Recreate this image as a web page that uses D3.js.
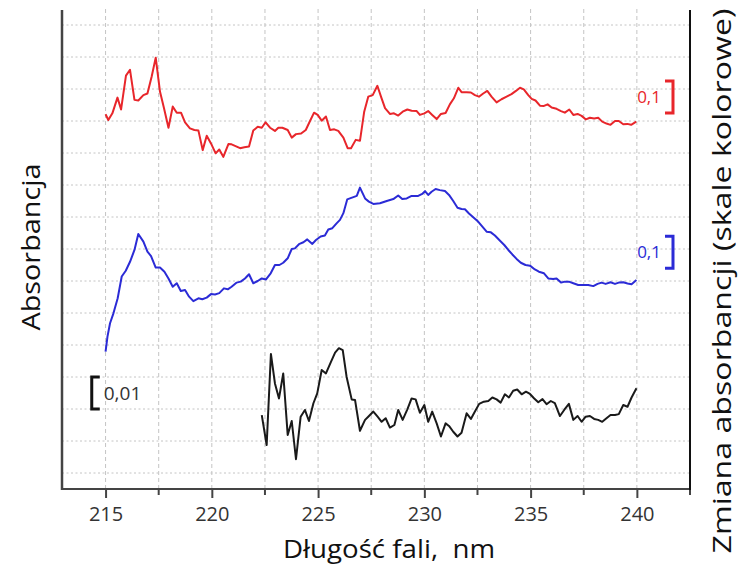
<!DOCTYPE html>
<html><head><meta charset="utf-8">
<script src="https://cdn.jsdelivr.net/npm/d3@7"></script>
<style>
html,body{margin:0;padding:0;background:#fff;}
svg{display:block;font-family:"Open Sans",sans-serif;}
</style></head>
<body><svg id="c" width="740" height="567"></svg>
<script>
// Wavelength (nm) and signal in scale-bar units (red/blue: 0.1 A per unit, black: 0.01 A per unit, stacked)
const redWl = [215.0,215.13,215.32,215.56,215.73,215.96,216.15,216.36,216.54,216.78,216.97,217.17,217.36,217.56,217.75,217.96,218.16,218.35,218.55,218.74,218.97,219.18,219.37,219.57,219.76,219.96,220.18,220.35,220.54,220.78,220.93,221.17,221.33,221.53,221.75,221.95,222.16,222.35,222.53,222.74,222.97,223.13,223.32,223.57,223.76,223.96,224.20,224.42,224.62,224.81,224.98,225.17,225.37,225.56,225.76,225.95,226.19,226.39,226.55,226.77,226.97,227.17,227.36,227.57,227.79,227.96,228.15,228.38,228.57,228.77,228.98,229.20,229.40,229.64,229.79,230.00,230.18,230.37,230.58,230.78,231.00,231.20,231.39,231.60,231.75,231.99,232.19,232.38,232.57,232.77,232.96,233.16,233.40,233.63,233.87,234.10,234.31,234.50,234.68,234.89,235.05,235.23,235.44,235.63,235.80,235.99,236.22,236.43,236.61,236.82,237.01,237.21,237.40,237.60,237.79,237.99,238.18,238.37,238.57,238.76,238.97,239.15,239.36,239.55,239.73,239.97];
const redVal = [11.21,11.03,11.24,11.73,11.36,12.42,12.60,11.66,11.64,11.81,11.86,12.39,12.98,11.92,11.40,10.79,11.45,11.26,11.26,10.96,10.77,10.72,10.70,10.09,10.54,10.30,9.99,10.11,9.88,10.28,10.27,10.20,10.15,10.18,10.20,10.70,10.82,10.79,10.96,10.79,10.69,10.79,10.79,10.72,10.48,10.59,10.61,10.72,11.00,11.26,11.19,11.01,11.14,10.72,10.74,10.69,10.48,10.15,10.15,10.41,10.38,11.29,11.76,11.81,12.10,11.76,11.40,11.22,11.24,11.17,11.29,11.36,11.32,11.31,11.19,11.24,11.31,11.19,11.06,11.22,11.25,11.52,11.71,12.04,11.90,11.90,11.89,11.81,11.76,11.86,11.94,11.76,11.58,11.68,11.76,11.84,11.94,12.04,11.99,11.81,11.69,11.64,11.48,11.47,11.52,11.42,11.38,11.31,11.26,11.36,11.19,11.22,11.16,11.05,11.10,11.08,11.10,10.98,10.92,10.88,11.00,11.00,10.90,10.91,10.88,10.98];

const blueWl = [215.0,215.09,215.21,215.37,215.57,215.76,215.95,216.15,216.36,216.54,216.78,216.97,217.14,217.36,217.56,217.77,217.96,218.16,218.35,218.54,218.74,218.93,219.13,219.37,219.55,219.76,219.96,220.15,220.35,220.57,220.75,220.93,221.17,221.36,221.56,221.75,221.95,222.16,222.35,222.55,222.77,222.97,223.18,223.36,223.57,223.76,223.91,224.10,224.31,224.49,224.73,224.90,225.12,225.32,225.48,225.67,225.87,226.03,226.19,226.37,226.66,226.82,226.97,227.21,227.39,227.60,227.91,228.23,228.54,228.77,228.96,229.17,229.40,229.71,229.90,230.03,230.18,230.34,230.53,230.73,230.97,231.16,231.36,231.56,231.75,231.91,232.10,232.30,232.54,232.73,232.93,233.13,233.32,233.56,233.76,233.95,234.14,234.34,234.54,234.76,234.97,235.20,235.39,235.63,235.83,236.06,236.22,236.43,236.61,236.80,237.01,237.24,237.48,237.71,237.95,238.15,238.34,238.53,238.76,238.97,239.15,239.36,239.56,239.75,239.98];
const blueVal = [3.79,4.26,4.68,4.99,5.46,6.14,6.32,6.60,6.97,7.47,7.23,6.92,6.78,6.42,6.42,6.29,6.08,5.82,5.93,5.69,5.72,5.51,5.37,5.46,5.43,5.48,5.59,5.58,5.62,5.77,5.74,5.82,5.95,5.98,6.08,6.21,5.93,6.00,6.08,6.05,6.24,6.50,6.50,6.57,6.71,7.00,7.02,7.15,7.21,7.30,7.16,7.28,7.39,7.42,7.61,7.65,7.80,7.91,8.12,8.55,8.62,8.66,8.92,8.58,8.48,8.41,8.43,8.50,8.56,8.67,8.56,8.58,8.66,8.66,8.72,8.81,8.69,8.79,8.875,8.84,8.81,8.69,8.50,8.29,8.25,8.24,8.11,7.99,7.85,7.70,7.54,7.52,7.42,7.26,7.125,6.97,6.83,6.69,6.57,6.50,6.48,6.36,6.29,6.24,6.08,6.06,6.08,5.95,5.98,5.98,5.93,5.875,5.875,5.875,5.84,5.91,5.95,5.91,5.96,5.91,5.95,5.96,5.92,5.90,6.03];

const blackWl = [222.35,222.58,222.78,222.97,223.16,223.36,223.57,223.76,223.96,224.18,224.38,224.57,224.78,224.96,225.17,225.37,225.59,225.80,225.98,226.16,226.34,226.58,226.74,226.97,227.21,227.36,227.60,227.80,227.99,228.18,228.38,228.59,228.77,228.98,229.20,229.40,229.59,229.79,230.00,230.18,230.37,230.58,230.78,231.00,231.16,231.36,231.56,231.75,231.99,232.19,232.38,232.58,232.80,233.01,233.20,233.40,233.59,233.79,233.98,234.18,234.37,234.58,234.78,234.97,235.17,235.36,235.56,235.75,235.95,236.14,236.38,236.58,236.80,237.01,237.21,237.40,237.59,237.79,237.99,238.18,238.37,238.57,238.76,238.97,239.15,239.36,239.56,239.75,239.98];
const blackVal = [1.81,0.875,3.72,2.80,2.33,3.11,1.19,1.625,0.43,1.76,1.97,1.625,2.18,2.49,3.22,3.11,3.45,3.76,3.90,3.84,3.01,2.30,2.28,1.32,1.66,1.76,1.92,1.76,1.60,1.71,1.42,1.50,1.97,1.66,1.99,2.33,2.30,1.885,2.125,1.60,1.92,1.55,1.14,1.55,1.47,1.29,1.14,1.26,1.865,1.69,1.92,2.16,2.23,2.25,2.36,2.30,2.20,2.46,2.36,2.57,2.61,2.46,2.54,2.47,2.33,2.21,2.31,2.15,2.25,2.18,1.78,1.97,2.16,1.66,1.78,1.60,1.76,1.78,1.69,1.66,1.60,1.71,1.81,1.81,1.84,2.125,2.07,2.36,2.65];

const xTicks = [215, 220, 225, 230, 235, 240];
const xMinorTicks = [217.5, 222.5, 227.5, 232.5, 237.5, 242.5];
const hGrid = [0,1,2,3,4,5,6,7,8,9,10,11,12,13,14];

const scaleBars = [
  {label: "0,1", color: "#e8262b", wl: 241.7, lo: 11.25, hi: 12.25, side: "right"},
  {label: "0,1", color: "#2b2bd6", wl: 241.7, lo: 6.4, hi: 7.4, side: "right"},
  {label: "0,01", color: "#111111", wl: 214.35, lo: 2.0, hi: 3.0, side: "left"}
];

const series = [
  {wl: redWl, val: redVal, color: "#e8262b"},
  {wl: blueWl, val: blueVal, color: "#2b2bd6"},
  {wl: blackWl, val: blackVal, color: "#1a1a1a"}
];

const svg = d3.select("#c");
const x = d3.scaleLinear().domain([212.95, 242.5]).range([62, 690]);
const y = d3.scaleLinear().domain([-0.5, 14.5]).range([489, 9]);

// grid
const grid = svg.append("g");
grid.selectAll("line.h").data(hGrid).join("line")
  .attr("x1", x.range()[0]).attr("x2", x.range()[1])
  .attr("y1", d => y(d)).attr("y2", d => y(d))
  .attr("stroke", "#c4c4c4").attr("stroke-width", 1).attr("stroke-dasharray", "2,2.5");
grid.selectAll("line.v").data(xTicks.concat(xMinorTicks.slice(0, -1))).join("line")
  .attr("x1", d => x(d)).attr("x2", d => x(d))
  .attr("y1", y.range()[0]).attr("y2", y.range()[1])
  .attr("stroke", "#c4c4c4").attr("stroke-width", 1).attr("stroke-dasharray", "4,3");

// series
const line = d3.line().x(d => x(d[0])).y(d => y(d[1]));
series.forEach(s => {
  svg.append("path").datum(s.wl.map((w, i) => [w, s.val[i]]))
    .attr("d", line).attr("fill", "none").attr("stroke", s.color)
    .attr("stroke-width", 2).attr("stroke-linejoin", "round");
});

// axes
const xAxis = d3.axisBottom(x).tickValues(xTicks).tickSize(9).tickPadding(9).tickFormat(d3.format("d"));
const ax = svg.append("g").attr("transform", `translate(0,${y.range()[0]})`).call(xAxis);
ax.select(".domain").attr("stroke", "#444").attr("stroke-width", 2).attr("d", `M${x.range()[0]},0H${x.range()[1]}`);
ax.selectAll(".tick line").attr("stroke", "#444").attr("stroke-width", 2);
ax.selectAll(".tick text").attr("font-size", 20).attr("fill", "#333").attr("font-family", "Open Sans");
svg.append("g").selectAll("line").data(xMinorTicks).join("line")
  .attr("x1", d => x(d)).attr("x2", d => x(d))
  .attr("y1", y.range()[0]).attr("y2", y.range()[0] + 6)
  .attr("stroke", "#444").attr("stroke-width", 2);

svg.append("line").attr("x1", x.range()[0]).attr("x2", x.range()[0])
  .attr("y1", y.range()[1] + 1).attr("y2", y.range()[0] + 1)
  .attr("stroke", "#444").attr("stroke-width", 2.5);
svg.append("line").attr("x1", x.range()[1]).attr("x2", x.range()[1])
  .attr("y1", y.range()[1] + 1).attr("y2", y.range()[0] + 1)
  .attr("stroke", "#111").attr("stroke-width", 2);

// scale bars
scaleBars.forEach(b => {
  const bx = x(b.wl), y0 = y(b.lo), y1 = y(b.hi);
  const dir = b.side === "right" ? -1 : 1;
  const serif = 8;
  svg.append("path")
    .attr("d", `M${bx + dir * serif},${y1}H${bx}V${y0}H${bx + dir * serif}`)
    .attr("fill", "none").attr("stroke", b.color).attr("stroke-width", 3);
  svg.append("text")
    .attr("x", b.side === "right" ? bx - serif - 4 : bx + serif + 4)
    .attr("y", (y0 + y1) / 2)
    .attr("dy", "0.35em")
    .attr("text-anchor", b.side === "right" ? "end" : "start")
    .attr("font-size", b.side === "right" ? 17 : 19).attr("fill", b.side === "right" ? b.color : "#333")
    .text(b.label);
});

// titles
svg.append("text").attr("x", 389).attr("y", 558).attr("text-anchor", "middle")
  .attr("font-size", 25).attr("fill", "#111")
  .attr("textLength", 212).attr("lengthAdjust", "spacingAndGlyphs")
  .style("white-space", "pre").text("Długość fali,  nm");
svg.append("text").attr("transform", "translate(40,247) rotate(-90)").attr("text-anchor", "middle")
  .attr("font-size", 26).attr("fill", "#111")
  .attr("textLength", 167).attr("lengthAdjust", "spacingAndGlyphs")
  .text("Absorbancja");
svg.append("text").attr("transform", "translate(731,281) rotate(-90)").attr("text-anchor", "middle")
  .attr("font-size", 26).attr("fill", "#111")
  .attr("textLength", 545).attr("lengthAdjust", "spacingAndGlyphs")
  .text("Zmiana absorbancji (skale kolorowe)");
</script></body></html>
